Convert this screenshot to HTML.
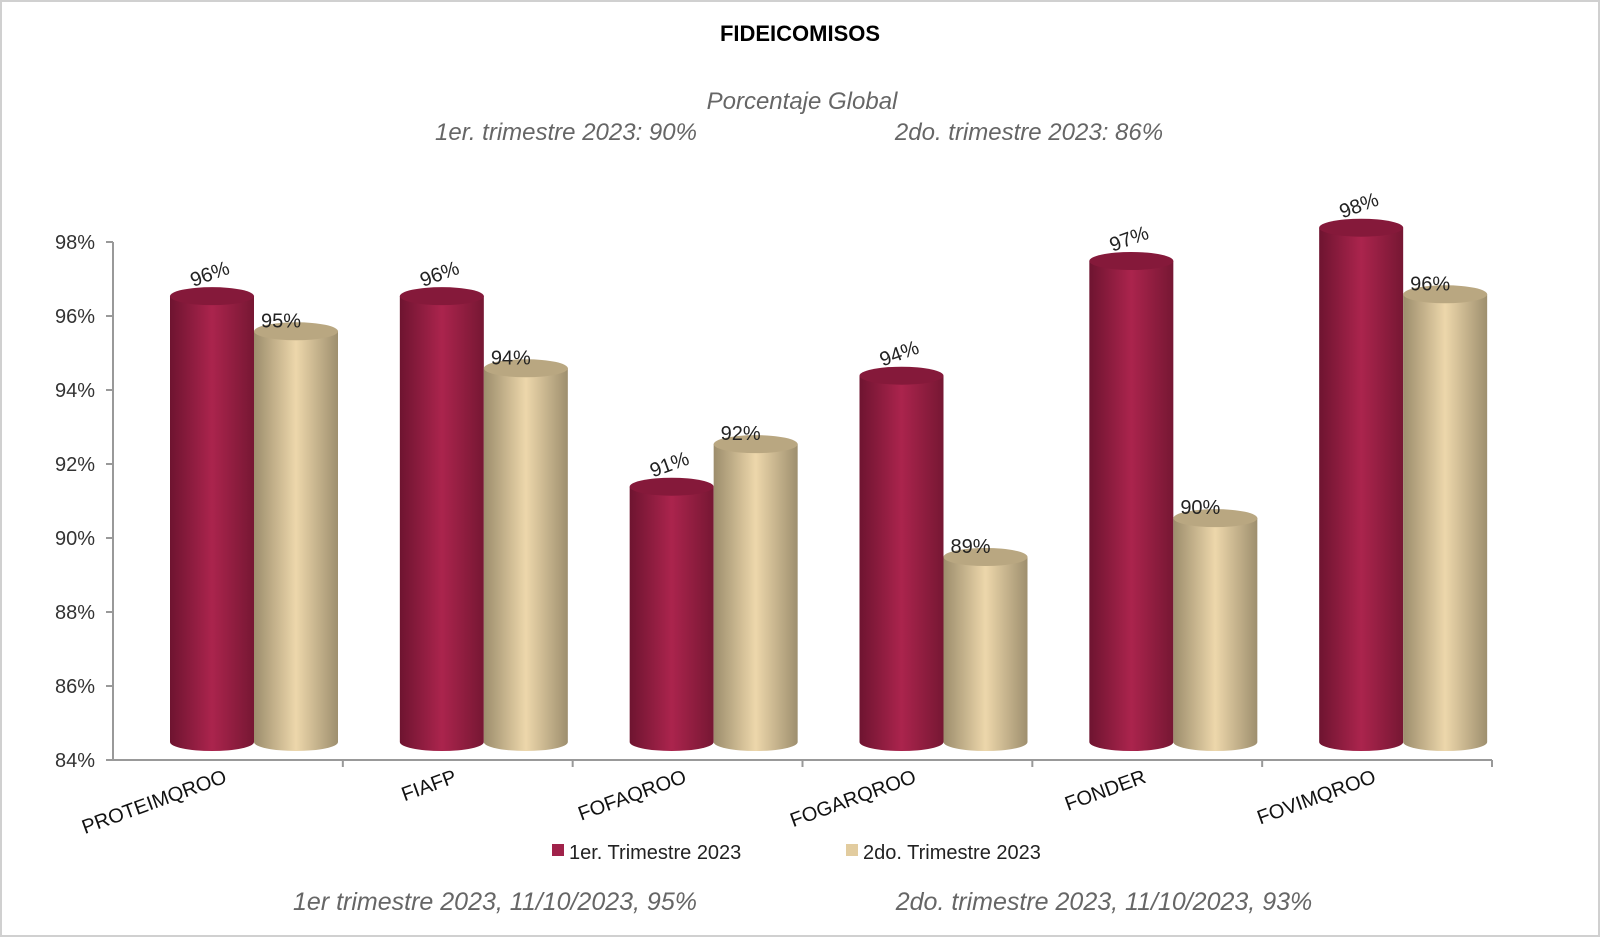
<!DOCTYPE html>
<html><head><meta charset="utf-8"><style>
body{margin:0;background:#fff;}
svg{display:block;font-family:"Liberation Sans",sans-serif;}
</style></head><body>
<svg width="1600" height="937" viewBox="0 0 1600 937">
<defs>
<linearGradient id="gr" x1="0" x2="1" y1="0" y2="0"><stop offset="0" stop-color="#6e1430"/><stop offset="0.5" stop-color="#ab244d"/><stop offset="1" stop-color="#761733"/></linearGradient>
<linearGradient id="gt" x1="0" x2="1" y1="0" y2="0"><stop offset="0" stop-color="#9c8d6c"/><stop offset="0.5" stop-color="#edd7ab"/><stop offset="1" stop-color="#9e8f6e"/></linearGradient>
</defs>
<rect x="1" y="1" width="1598" height="935" fill="#fff" stroke="#d0d0d0" stroke-width="2"/>
<text x="800" y="41" text-anchor="middle" font-size="22" font-weight="bold" fill="#000">FIDEICOMISOS</text>
<text x="802" y="109" text-anchor="middle" font-size="24" font-style="italic" fill="#666">Porcentaje Global</text>
<text x="566" y="140" text-anchor="middle" font-size="24" font-style="italic" fill="#666">1er. trimestre 2023: 90%</text>
<text x="1029" y="140" text-anchor="middle" font-size="24" font-style="italic" fill="#666">2do. trimestre 2023: 86%</text>
<g id="plot"></g>
<rect x="552" y="844" width="12" height="12" fill="#a0224a"/>
<text x="569" y="859" font-size="20" fill="#222">1er. Trimestre 2023</text>
<rect x="846" y="844" width="12" height="12" fill="#e2cc9f"/>
<text x="863" y="859" font-size="20" fill="#222">2do. Trimestre 2023</text>
<text x="495" y="910" text-anchor="middle" font-size="25" font-style="italic" fill="#666">1er trimestre  2023,  11/10/2023, 95%</text>
<text x="1104" y="910" text-anchor="middle" font-size="25" font-style="italic" fill="#666">2do. trimestre 2023, 11/10/2023, 93%</text>
</svg>
<script>
const categories=["PROTEIMQROO","FIAFP","FOFAQROO","FOGARQROO","FONDER","FOVIMQROO"];
const q1Values=[96.05,96.05,90.9,93.9,97.0,97.9];
const q2Values=[95.1,94.1,92.05,89.0,90.05,96.1];
const q1Labels=["96%","96%","91%","94%","97%","98%"];
const q2Labels=["95%","94%","92%","89%","90%","96%"];
const yTicks=[84,86,88,90,92,94,96,98];

const NS="http://www.w3.org/2000/svg";
const g=document.getElementById('plot');
const X0=113,X1=1492,AXY=760,BASE=742;
const cw=(X1-X0)/categories.length;
const yTick=v=>AXY-(v-84)*37;
const yBar=v=>BASE-(v-84)*37;
function mk(t,a){const e=document.createElementNS(NS,t);for(const k in a)e.setAttribute(k,a[k]);g.appendChild(e);return e;}

yTicks.forEach(v=>{
  const y=yTick(v);
  const l=mk('line',{x1:X0-7,x2:X0,y1:y,y2:y,stroke:'#999','stroke-width':2});
  
  
  const t=mk('text',{x:X0-18,y:y+7,'text-anchor':'end','font-size':20,fill:'#333'});
  t.textContent=v+'%';
  
  
});
const ya=mk('line',{x1:X0,x2:X0,y1:yTick(98),y2:AXY,stroke:'#999','stroke-width':2});


const xa=mk('line',{x1:X0,x2:X1,y1:AXY,y2:AXY,stroke:'#999','stroke-width':2});



function cyl(x,w,v,grad,topc,name){
  const yt=yBar(v),rx=w/2,ry=9,cx=x+rx;
  const p=mk('path',{d:`M${x},${yt} L${x},${BASE} A${rx},${ry} 0 0 0 ${x+w},${BASE} L${x+w},${yt} Z`,fill:`url(#${grad})`});
  
  
  const e=mk('ellipse',{cx:cx,cy:yt,rx:rx,ry:ry,fill:topc});
  
  
  return yt;
}
categories.forEach((c,i)=>{
  const s=X0+i*cw;
  const tk=mk('line',{x1:s+cw,x2:s+cw,y1:AXY,y2:AXY+7,stroke:'#999','stroke-width':2});
  
  
  const yr=cyl(s+57,84,q1Values[i],'gr','#85193a','bar-q1-'+c.toLowerCase());
  const yt=cyl(s+141,84,q2Values[i],'gt','#b9a781','bar-q2-'+c.toLowerCase());
  const lr=mk('text',{x:s+99,y:yr-16,'text-anchor':'middle','font-size':20,fill:'#222',transform:`rotate(-20 ${s+99} ${yr-16})`});
  lr.textContent=q1Labels[i];
  
  
  const lt=mk('text',{x:s+168,y:yt-4,'text-anchor':'middle','font-size':20,fill:'#222'});
  lt.textContent=q2Labels[i];
  
  
  const ax=s+cw/2,ay=AXY+22;
  const cl=mk('text',{x:ax,y:ay,'text-anchor':'end','font-size':20,fill:'#111',transform:`rotate(-20 ${ax} ${ay})`});
  cl.textContent=c;
  
  
});
</script>
</body></html>
